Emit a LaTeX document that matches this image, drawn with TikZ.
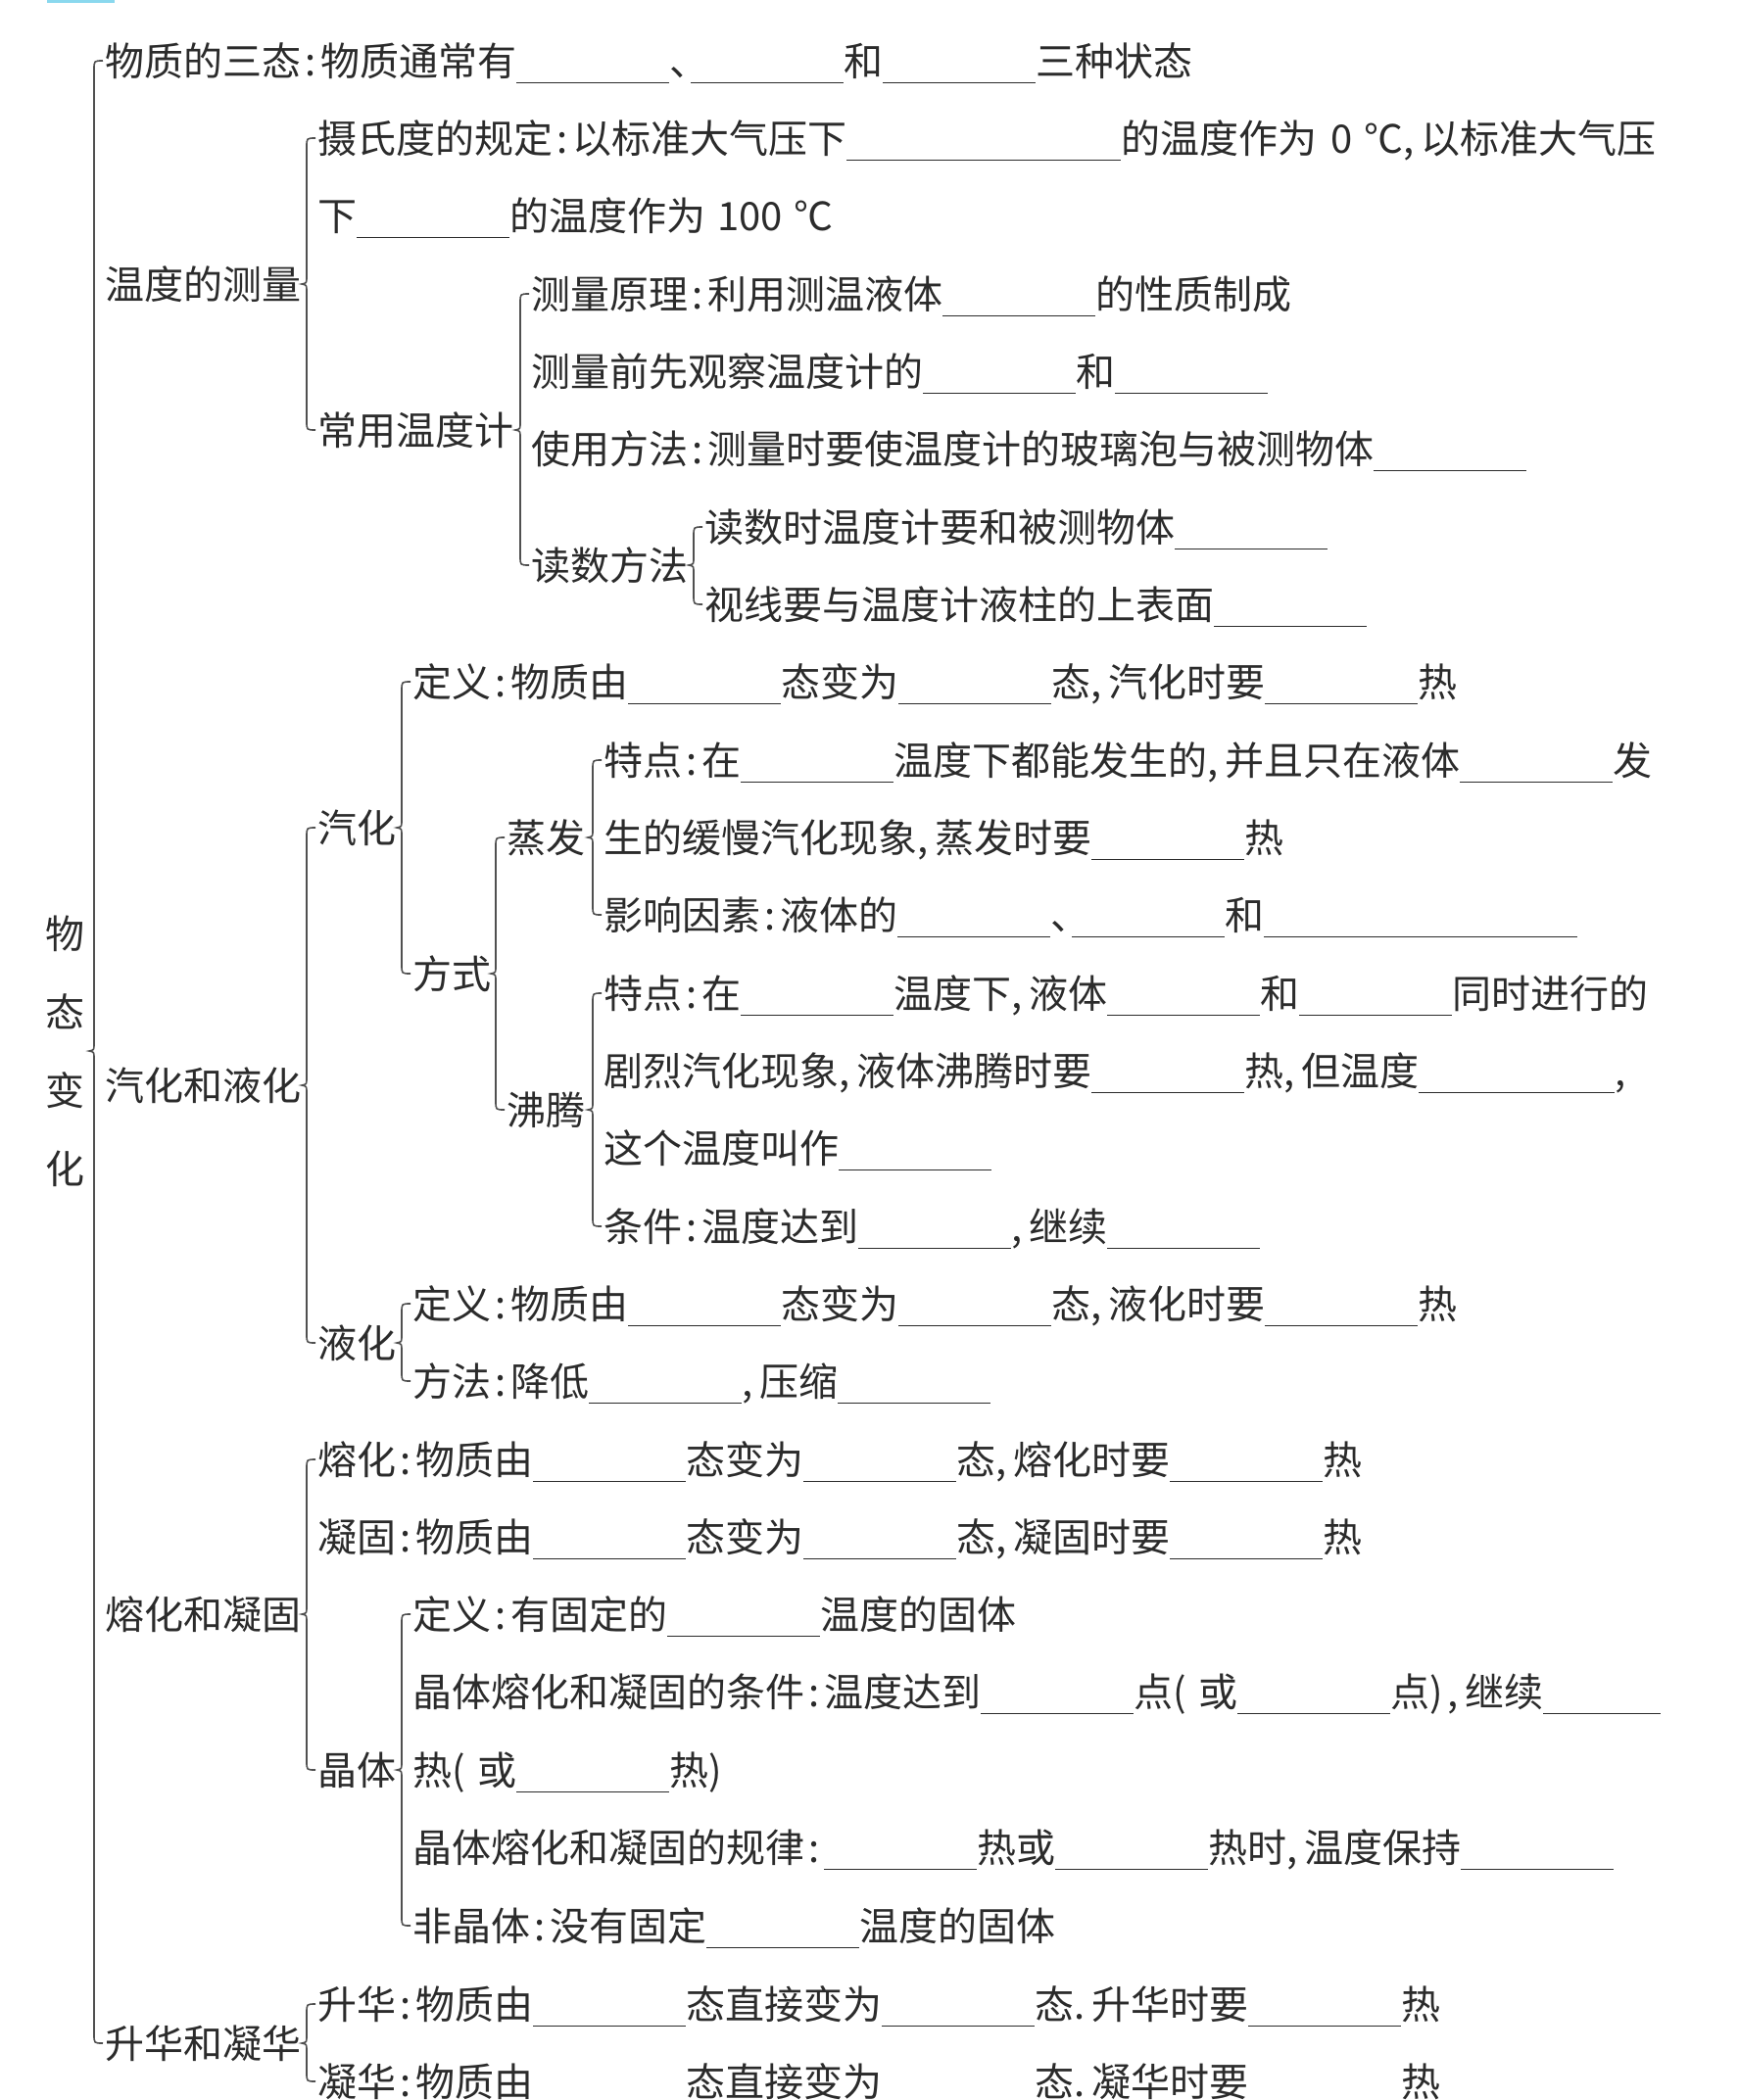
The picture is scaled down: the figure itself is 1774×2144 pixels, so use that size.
\documentclass[tikz,border=0pt]{standalone}
\usepackage{fontspec}
\setmainfont{Noto Sans CJK SC}
\usetikzlibrary{calc}
\definecolor{ink}{HTML}{2B2B2B}
\definecolor{brk}{HTML}{505050}
\definecolor{tab}{HTML}{8AD8EE}
\newcommand\bk[1][3.9]{\rule[-0.2em]{#1em}{1.3pt}}
\newcommand\cln{\makebox[0.5em]{:}}
\newcommand\cma{\makebox[0.45em][l]{,}}
\newcommand\dun{\makebox[0.55em][l]{、}}
\newcommand\prd{\makebox[0.45em][l]{.}}
\newcommand\lp{\makebox[0.65em][l]{(}}
\newcommand\rp{\makebox[0.45em][l]{)}}

\begin{document}
\begin{tikzpicture}[x=1pt,y=-1pt,font=\fontsize{40}{48}\selectfont,
  txt/.style={anchor=west,inner sep=0pt,text height=35pt,text depth=5pt,text=ink},
  brc/.style={draw=brk,line width=1.6pt}]
  \useasboundingbox (0,0) rectangle (1774,2144);
  \fill[tab] (48,0) rectangle (117,3);

  \node[inner sep=0pt,align=center,text=ink,font=\fontsize{40}{80}\selectfont] (root) at (66,1073) {物\\态\\变\\化};

  % 物质的三态
  \node[txt] (san) at (107,62) {物质的三态\cln{}物质通常有\bk{}\dun\bk{}和\bk{}三种状态};

  % 温度的测量
  \node[txt] (wd) at (107,290) {温度的测量};
  \node[txt] (ssd) at (324,141) {摄氏度的规定\cln{}以标准大气压下\bk[7]{}的温度作为\hspace{0.35em}0\hspace{0.3em}℃\cma{}以标准大气压};
  \node[txt] (ssdb) at (324,220) {下\bk{}的温度作为\hspace{0.3em}100\hspace{0.3em}℃};
  \node[txt] (cy) at (324,439) {常用温度计};
  \node[txt] (yl) at (542,300) {测量原理\cln{}利用测温液体\bk{}的性质制成};
  \node[txt] (gc) at (542,379) {测量前先观察温度计的\bk{}和\bk{}};
  \node[txt] (sy) at (542,458) {使用方法\cln{}测量时要使温度计的玻璃泡与被测物体\bk{}};
  \node[txt] (ds) at (542,577) {读数方法};
  \node[txt] (ds1) at (719,538) {读数时温度计要和被测物体\bk{}};
  \node[txt] (ds2) at (719,617) {视线要与温度计液柱的上表面\bk{}};

  % 汽化和液化
  \node[txt] (qy) at (107,1108) {汽化和液化};
  \node[txt] (qh) at (324,845) {汽化};
  \node[txt] (qdy) at (421,696) {定义\cln{}物质由\bk{}态变为\bk{}态\cma{}汽化时要\bk{}热};
  \node[txt] (fs) at (421,994) {方式};
  \node[txt] (zf) at (517,855) {蒸发};
  \node[txt] (zf1) at (616,776) {特点\cln{}在\bk{}温度下都能发生的\cma{}并且只在液体\bk{}发};
  \node[txt] (zf2) at (616,855) {生的缓慢汽化现象\cma{}蒸发时要\bk{}热};
  \node[txt] (zf3) at (616,934) {影响因素\cln{}液体的\bk{}\dun\bk{}和\bk[8]{}};
  \node[txt] (ft) at (517,1133) {沸腾};
  \node[txt] (ft1) at (616,1014) {特点\cln{}在\bk{}温度下\cma{}液体\bk{}和\bk{}同时进行的};
  \node[txt] (ft2) at (616,1093) {剧烈汽化现象\cma{}液体沸腾时要\bk{}热\cma{}但温度\bk[5]{}\cma};
  \node[txt] (ft3) at (616,1172) {这个温度叫作\bk{}};
  \node[txt] (ft4) at (616,1252) {条件\cln{}温度达到\bk{}\cma{}继续\bk{}};
  \node[txt] (yh) at (324,1371) {液化};
  \node[txt] (yh1) at (421,1331) {定义\cln{}物质由\bk{}态变为\bk{}态\cma{}液化时要\bk{}热};
  \node[txt] (yh2) at (421,1410) {方法\cln{}降低\bk{}\cma{}压缩\bk{}};

  % 熔化和凝固
  \node[txt] (rn) at (107,1648) {熔化和凝固};
  \node[txt] (rh) at (324,1490) {熔化\cln{}物质由\bk{}态变为\bk{}态\cma{}熔化时要\bk{}热};
  \node[txt] (ng) at (324,1569) {凝固\cln{}物质由\bk{}态变为\bk{}态\cma{}凝固时要\bk{}热};
  \node[txt] (jt) at (324,1807) {晶体};
  \node[txt] (jt1) at (421,1648) {定义\cln{}有固定的\bk{}温度的固体};
  \node[txt] (jt2) at (421,1727) {晶体熔化和凝固的条件\cln{}温度达到\bk{}点\lp 或\bk{}点\rp\cma{}继续\bk[3]{}};
  \node[txt] (jt3) at (421,1807) {热\lp 或\bk{}热\rp};
  \node[txt] (jt4) at (421,1886) {晶体熔化和凝固的规律\cln{}\bk{}热或\bk{}热时\cma{}温度保持\bk{}};
  \node[txt] (jt5) at (421,1966) {非晶体\cln{}没有固定\bk{}温度的固体};

  % 升华和凝华
  \node[txt] (sn) at (107,2086) {升华和凝华};
  \node[txt] (shh) at (324,2046) {升华\cln{}物质由\bk{}态直接变为\bk{}态\prd{}升华时要\bk{}热};
  \node[txt] (nh) at (324,2125) {凝华\cln{}物质由\bk{}态直接变为\bk{}态\prd{}凝华时要\bk{}热};

  % braces: parent/first/last
  \foreach \p/\a/\b in {root/san/sn,wd/ssd/cy,cy/yl/ds,ds/ds1/ds2,qy/qh/yh,qh/qdy/fs,
      fs/zf/ft,zf/zf1/zf3,ft/ft1/ft4,yh/yh1/yh2,rn/rh/jt,jt/jt1/jt5,sn/shh/nh} {
    \draw[brc] ($(\a.west)+(-2,0)$) .. controls ($(\a.west)+(-11,0)$) .. ($(\a.west)+(-11,9)$)
      -- ($(\a.west |- \p.east)+(-11,-7)$) .. controls ($(\a.west |- \p.east)+(-11,-1)$) .. ($(\a.west |- \p.east)+(-16,0)$)
      .. controls ($(\a.west |- \p.east)+(-11,1)$) .. ($(\a.west |- \p.east)+(-11,7)$)
      -- ($(\b.west)+(-11,-9)$) .. controls ($(\b.west)+(-11,0)$) .. ($(\b.west)+(-2,0)$);
  }
\end{tikzpicture}
\end{document}
